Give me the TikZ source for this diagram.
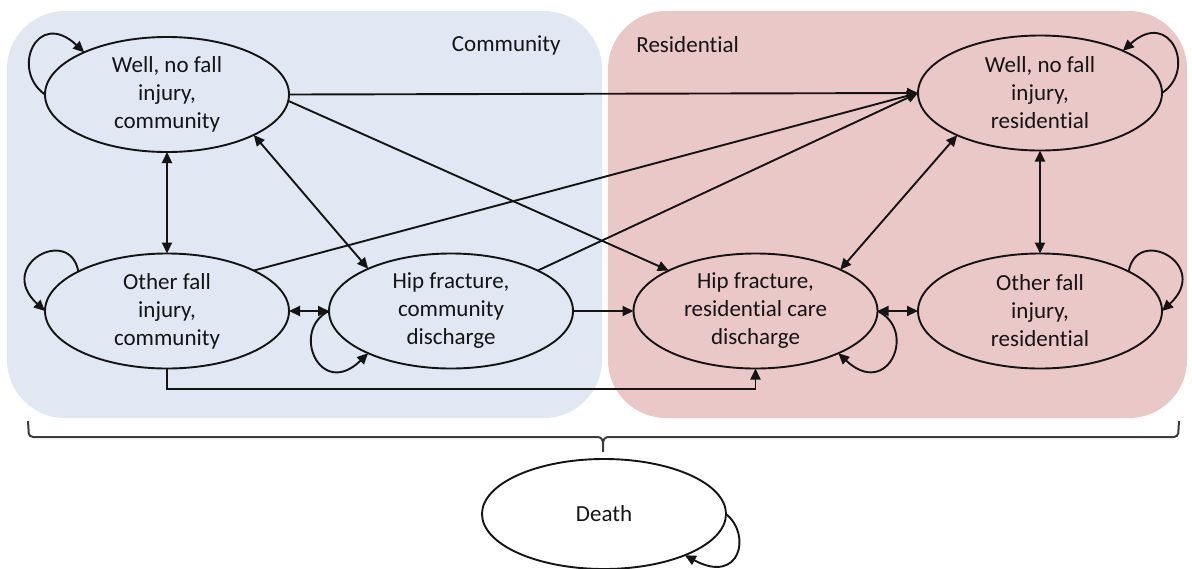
\documentclass[tikz,border=0pt]{standalone}
\usepackage{fontspec}
\setmainfont{Carlito}[Ligatures=NoCommon]
\usetikzlibrary{shapes.geometric,arrows.meta,calc}
\definecolor{combg}{RGB}{225,232,243}
\definecolor{resbg}{RGB}{235,200,200}
\definecolor{ink}{RGB}{20,20,20}
\definecolor{bracecol}{RGB}{60,60,60}
\begin{document}
\begin{tikzpicture}[x=0.5pt,y=-0.5pt,
  st/.style={ellipse,draw=ink,line width=0.95pt,minimum width=122pt,minimum height=57.5pt,inner sep=0pt,outer sep=0pt},
  txt/.style={align=center,font=\fontsize{11.5}{14}\selectfont,text=ink,inner sep=0pt},
  conn/.style={draw=ink,line width=0.95pt},
  arr/.style={conn,-{Triangle[length=5.5pt,width=5pt]}},
  darr/.style={conn,{Triangle[length=5.5pt,width=5pt]}-{Triangle[length=5.5pt,width=5pt]}},
  regionbox/.style={rounded corners=29pt}]
\useasboundingbox (0,0) rectangle (1192,568);
% regions
\fill[combg,regionbox] (7,11) rectangle (602,418);
\fill[resbg,regionbox] (608,11) rectangle (1187,418);
\node[txt,anchor=east] (lc) at (561,45) {Community};
\node[txt,anchor=west] (lr) at (636,45) {Residential};
% states
\node[st,label={[txt]center:{Well, no fall\\injury,\\community}}] (wc) at (167,94.5) {};
\node[st,label={[txt]center:{Other fall\\injury,\\community}}] (oc) at (167,311) {};
\node[st,label={[txt]center:{Hip fracture,\\community\\discharge}}] (hc) at (451,311) {};
\node[st,label={[txt]center:{Hip fracture,\\residential care\\discharge}}] (hr) at (755.5,311) {};
\node[st,label={[txt]center:{Other fall\\injury,\\residential}}] (or) at (1040,311) {};
\node[st,label={[txt]center:{Well, no fall\\injury,\\residential}}] (wr) at (1040,93) {};
\node[st,minimum height=55pt,label={[txt]center:{Death}}] (d) at (604,514) {};
% transitions
\draw[darr] (wc.south) -- (oc.north);
\draw[darr] (wc.335) -- (hc.153);
\draw[arr] (wc.east) -- (wr.west);
\draw[arr] (wc.357) -- (hr.155);
\draw[arr] (oc.25) -- (wr.west);
\draw[arr] (hc.25) -- (wr.west);
\draw[darr] (hr.26) -- (wr.207);
\draw[darr] (wr.south) -- (or.north);
\draw[darr] (oc.east) -- (hc.west);
\draw[arr] (hc.east) -- (hr.west);
\draw[darr] (hr.east) -- (or.west);
\coordinate (lowy) at (0,389);
\draw[arr] (oc.south) -- (oc.south |- lowy) -- (hr.south |- lowy) -- (hr.south);
% self loops
\draw[arr] (wc.west) .. controls (10,70) and (37,8) .. (wc.153);
\draw[arr] (oc.156) .. controls (70,225) and (-5,265) .. (oc.west);
\draw[arr] (hc.west) .. controls (290,330) and (320,400) .. (hc.207);
\draw[arr] (hr.east) .. controls (918,330) and (888,400) .. (hr.333);
\draw[arr] (or.24) .. controls (1137,225) and (1212,265) .. (or.east);
\draw[arr] (wr.east) .. controls (1197,70) and (1170,8) .. (wr.27);
\draw[arr] (d.east) .. controls (752,535) and (740,585) .. (d.333);
% brace to death
\coordinate (bl) at (28,421);
\coordinate (br) at (1179,421);
\coordinate (bt) at (603,452);
\draw[bracecol,line width=1pt,rounded corners=2pt] (bl) -- (29,437) -- (597,437);
\draw[bracecol,line width=1pt] (597,437) .. controls (601,437) and (603,439) .. (603,444) -- (bt);
\draw[bracecol,line width=1pt] (609,437) .. controls (605,437) and (603,439) .. (603,444);
\draw[bracecol,line width=1pt,rounded corners=2pt] (609,437) -- (1178,437) -- (br);
\end{tikzpicture}
\end{document}
